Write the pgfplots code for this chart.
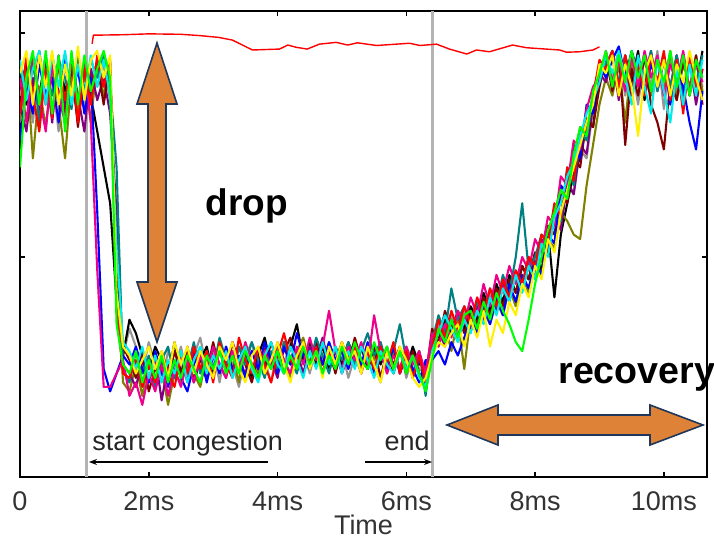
\documentclass[border=0pt]{standalone}
\usepackage{pgfplots}
\pgfplotsset{compat=1.18}
\usepackage{pgfplotstable}
\usepackage{fontspec}
\setmainfont{Liberation Sans}
\usetikzlibrary{arrows.meta}

\definecolor{arrowfill}{RGB}{222,130,55}
\definecolor{arrowedge}{RGB}{30,55,90}
\definecolor{vgray}{RGB}{180,180,180}
\definecolor{cgr}{RGB}{150,150,150}
\definecolor{col}{RGB}{128,128,0}
\definecolor{cpu}{RGB}{128,0,128}
\definecolor{cma}{RGB}{128,0,0}
\definecolor{cte}{RGB}{0,128,128}
\definecolor{ccy}{RGB}{0,235,235}
\definecolor{cye}{RGB}{255,240,0}
\definecolor{cgn}{RGB}{0,255,0}

% throughput of each flow, percent of link rate
\pgfplotstableread{
t    gr bk ol pu ma te bl mg rd cy ye gn
0.0  86 90 80 84 88 92 76 90 82 94 91 70
0.1  92 84 94 78 93 86 88 80 95 85 96 90
0.2  80 93 72 90 85 95 82 94 86 92 84 96
0.3  94 86 88 82 96 80 93 86 78 96 95 84
0.4  85 95 79 93 84 92 86 78 92 84 88 96
0.5  90 82 92 80 95 86 90 93 81 95 96 82
0.6  78 94 84 95 87 94 80 86 93 88 84 95
0.7  93 87 72 83 82 90 95 80 85 96 93 78
0.8  86 92 90 94 93 83 85 95 94 84 86 96
0.9  94 80 82 86 79 95 92 84 80 93 97 84
1.0  84 93 91 78 92 87 82 94 92 86 85 95
1.1  92 86 80 92 86 94 90 80 84 95 94 87
1.2  88 78 94 85 93 90 60 47 95 88 96 92
1.3  93 70 86 90 84 95 25 21 88 94 90 96
1.4  85 62 92 82 94 88 20 21 93 86 95 90
1.5  55 40 48 60 45 70 24 24 38 52 42 35
1.6  28 28 22 26 30 25 28 27 24 31 30 26
1.7  34 36 20 24 27 22 26 19 23 29 28 24
1.8  30 33 26 21 23 29 30 22 27 25 24 29
1.9  24 28 19 27 29 24 25 17 21 30 27 22
2.0  31 25 27 22 20 28 22 24 26 23 30 27
2.1  26 30 21 28 25 21 29 20 22 28 25 23
2.2  22 27 25 18 28 27 24 26 29 22 29 28
2.3  29 23 17 26 22 30 21 19 24 27 23 22
2.4  25 31 24 23 29 23 27 25 21 24 31 27
2.5  30 24 22 28 24 28 23 21 28 29 26 23
2.6  23 28 29 22 30 25 20 27 24 22 30 28
2.7  28 22 24 29 23 31 26 22 30 27 24 25
2.8  32 27 21 25 28 24 29 28 25 30 29 22
2.9  25 30 28 23 24 29 22 24 29 24 26 28
3.0  29 24 23 30 31 25 28 30 22 28 23 25
3.1  22 29 30 26 25 32 24 26 31 25 30 29
3.2  30 26 25 23 29 27 30 23 26 29 27 24
3.3  26 31 28 31 24 24 25 29 23 23 31 28
3.4  21 25 22 27 30 30 28 25 32 27 25 24
3.5  28 29 31 24 26 26 23 31 27 30 22 29
3.6  31 23 26 29 22 31 29 26 24 25 28 26
3.7  24 28 24 25 28 27 25 23 30 22 30 23
3.8  27 32 29 30 25 23 31 29 26 28 24 28
3.9  22 26 25 27 31 29 27 25 22 31 27 25
4.0  30 29 30 23 26 25 24 31 28 26 31 29
4.1  26 24 27 31 29 31 30 27 33 24 26 24
4.2  31 30 23 26 32 27 26 24 27 30 22 28
4.3  25 35 29 29 27 24 33 30 25 27 28 25
4.4  29 27 32 24 30 30 28 26 31 23 31 30
4.5  24 31 26 30 25 26 25 32 26 29 25 26
4.6  30 26 29 27 31 32 30 27 30 25 29 29
4.7  27 30 24 32 26 28 26 30 24 31 23 24
4.8  31 25 30 26 29 24 31 38 29 26 30 28
4.9  25 29 27 29 24 30 27 29 25 30 26 25
5.0  29 26 31 24 30 27 29 25 31 24 31 30
5.1  23 31 26 28 26 31 25 30 27 29 27 26
5.2  28 27 29 31 32 26 30 27 30 25 29 31
5.3  24 30 25 26 27 29 26 31 24 30 24 27
5.4  30 25 30 30 25 33 31 26 29 27 30 25
5.5  26 29 27 25 30 28 24 37 25 23 26 31
5.6  22 26 31 29 23 31 28 29 30 29 22 27
5.7  29 30 24 25 29 26 25 24 26 26 29 30
5.8  25 24 29 30 26 29 30 28 31 24 25 25
5.9  30 29 25 24 30 35 24 25 24 29 30 29
6.0  23 25 30 28 24 27 29 30 29 25 27 24
6.1  28 30 26 23 29 24 25 26 23 28 23 28
6.2  25 26 29 27 24 29 22 29 28 23 21 24
6.3  24 26 22 25 23 19 27 24 22 21 23 20
6.4  30 28 32 29 34 31 27 33 30 29 28 27
6.5  35 32 30 34 31 37 29 30 36 33 31 34
6.6  31 36 35 30 38 33 26 35 32 37 30 31
6.7  37 33 29 36 34 43 31 32 38 34 33 36
6.8  33 38 36 32 37 36 28 38 34 31 35 32
6.9  38 34 25 37 33 39 32 35 39 36 30 37
7.0  35 39 37 34 38 35 36 41 35 33 36 38
7.1  40 36 33 39 35 40 33 37 41 38 32 34
7.2  37 42 38 36 41 37 39 44 37 35 38 40
7.3  42 38 35 41 37 43 35 39 43 41 30 36
7.4  39 44 40 38 43 39 41 46 39 37 36 42
7.5  44 40 37 44 39 46 37 42 45 43 33 38
7.6  41 46 43 40 45 42 44 48 41 40 40 35
7.7  46 42 39 47 42 50 40 44 47 46 37 31
7.8  43 48 46 43 48 62 46 50 44 42 44 29
7.9  49 45 42 50 45 47 43 47 50 48 41 36
8.0  47 51 49 46 51 50 49 54 48 45 48 44
8.1  53 47 46 54 49 55 46 51 55 53 45 50
8.2  52 56 54 51 57 53 55 59 53 50 54 56
8.3  58 41 52 59 55 61 53 57 62 59 51 60
8.4  57 55 60 56 64 58 66 68 59 62 60 65
8.5  66 62 58 67 62 70 64 66 70 68 65 63
8.6  64 69 55 64 72 66 75 76 67 71 70 73
8.7  74 72 54 75 70 78 72 74 79 77 75 79
8.8  72 80 66 73 81 76 84 83 78 82 80 77
8.9  83 79 75 84 79 87 82 88 86 85 84 87
9.0  88 90 84 91 88 92 93 90 94 89 93 91
9.1  94 92 90 89 95 93 90 96 92 95 91 96
9.2  90 96 86 95 87 96 94 89 96 91 95 88
9.3  96 87 93 85 96 89 97 94 88 96 86 95
9.4  86 95 80 93 75 95 90 87 95 90 93 89
9.5  93 89 94 86 92 87 96 95 87 84 88 96
9.6  84 96 88 94 86 94 91 88 93 95 77 90
9.7  95 85 95 89 95 90 86 96 86 88 91 95
9.8  88 94 86 96 84 96 93 90 95 82 95 87
9.9  96 88 94 87 80 87 89 95 89 94 88 94
10.0 83 95 87 94 74 94 95 86 96 87 94 89
10.1 94 86 96 88 89 88 84 93 85 80 86 96
10.2 87 95 85 95 85 95 92 89 94 92 93 88
10.3 95 83 93 86 94 86 88 96 82 84 89 95
10.4 86 94 88 94 86 93 80 87 95 93 96 86
10.5 93 88 95 84 95 89 74 94 88 86 90 94
10.6 88 96 87 92 84 95 87 89 92 94 85 90
}\flows

\begin{document}
\begin{tikzpicture}
\useasboundingbox (-10pt,-32.5pt) rectangle (347pt,238.5pt);
\begin{axis}[
    at={(0,0)}, anchor=south west,
    scale only axis,
    width=343.5pt, height=233pt,
    xmin=0, xmax=10.67,
    ymin=0.9, ymax=104.9,
    xtick={0,2,4,6,8,10},
    xticklabels={0,2ms,4ms,6ms,8ms,10ms},
    ytick={50,100},
    yticklabels={},
    major tick length=2.5pt,
    tick style={black, line width=0.8pt},
    axis line style={black, line width=0.9pt},
    tick label style={font=\fontsize{13.5}{16}\selectfont, text=black!80},
    xticklabel style={yshift=-3.7pt},
    xlabel={Time},
    xlabel style={font=\fontsize{13.5}{16}\selectfont, text=black!80, yshift=4.5pt},
    every axis plot/.append style={line width=1.05pt, line join=round},
]
\addplot[vgray, line width=1.5pt] coordinates {(1.04,0.9) (1.04,104.9)};
\addplot[vgray, line width=1.5pt] coordinates {(6.40,0.9) (6.40,104.9)};

\addplot[cgr] table[x=t, y=gr] {\flows};
\addplot[black] table[x=t, y=bk] {\flows};
\addplot[col] table[x=t, y=ol] {\flows};
\addplot[cpu] table[x=t, y=pu] {\flows};
\addplot[cma] table[x=t, y=ma] {\flows};
\addplot[cte] table[x=t, y=te] {\flows};
\addplot[blue] table[x=t, y=bl] {\flows};
\addplot[magenta] table[x=t, y=mg] {\flows};
\addplot[red] table[x=t, y=rd] {\flows};
\addplot[ccy] table[x=t, y=cy] {\flows};
\addplot[cye] table[x=t, y=ye] {\flows};
\addplot[cgn] table[x=t, y=gn] {\flows};

% aggregate
\addplot[red, line width=0.7pt] coordinates {
 (1.12,97.6) (1.14,99.5) (1.6,99.6) (2.0,99.8) (2.5,99.7) (2.8,99.4)
 (3.09,99.0) (3.3,98.4) (3.61,96.2) (4.03,96.4) (4.16,97.3) (4.29,96.8)
 (4.46,96.4) (4.65,97.5) (4.91,97.9) (5.09,97.3) (5.24,97.8) (5.54,97.2)
 (5.74,97.4) (6.05,97.7) (6.21,97.2) (6.47,97.5) (6.67,96.4) (6.94,95.3)
 (7.09,96.2) (7.29,95.8) (7.65,97.3) (7.87,96.7) (8.07,96.5) (8.38,96.2)
 (8.49,95.7) (8.69,95.8) (8.9,96.2) (9.0,96.9)
};
\end{axis}

\begin{scope}[x=0.5pt, y=-0.5pt, shift={(-20,-477)}]
  \node[anchor=base west, inner sep=0, text=black!85,
        font=\fontsize{13.5}{16}\selectfont] at (92,451) {start congestion};
  \node[anchor=base east, inner sep=0, text=black!85,
        font=\fontsize{13.5}{16}\selectfont] at (430,451) {end};
  \draw[line width=0.7pt, -{Stealth[length=4pt, width=3pt]}] (268,462) -- (89,462);
  \draw[line width=0.7pt, -{Stealth[length=4pt, width=3pt]}] (365,462) -- (432,462);

  \filldraw[fill=arrowfill, draw=arrowedge, line width=0.8pt, line join=miter]
    (157,43) -- (177,104) -- (166,104) -- (166,282) -- (177,282) -- (157,342)
    -- (137,282) -- (148,282) -- (148,104) -- (137,104) -- cycle;
  \filldraw[fill=arrowfill, draw=arrowedge, line width=0.8pt, line join=miter]
    (447,425) -- (498,405) -- (498,415) -- (650,415) -- (650,405) -- (703,425)
    -- (650,445) -- (650,435) -- (498,435) -- (498,445) -- cycle;

  \node[anchor=base west, inner sep=0, font=\fontsize{18.5}{22}\selectfont\bfseries]
    at (205,216) {drop};
  \node[anchor=base west, inner sep=0, font=\fontsize{18.8}{22}\selectfont\bfseries]
    at (558,384) {recovery};
\end{scope}
\end{tikzpicture}
\end{document}
